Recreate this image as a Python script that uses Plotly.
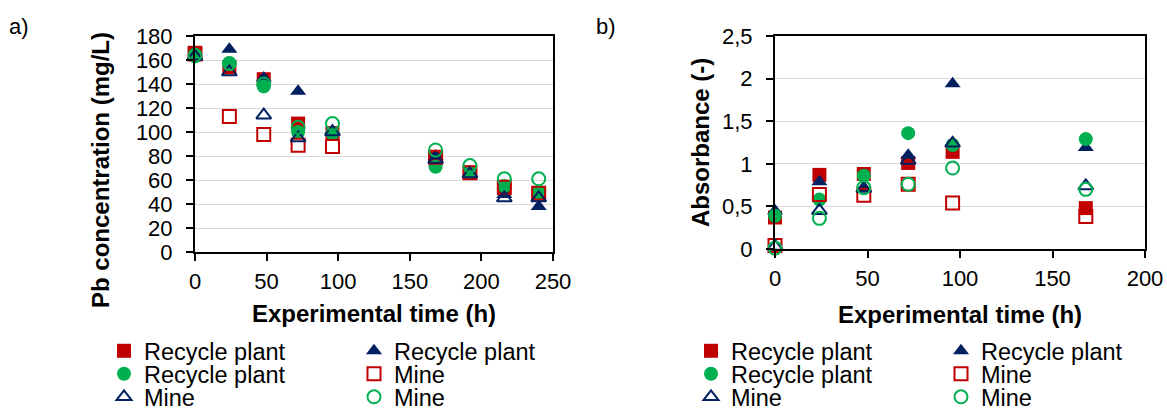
import plotly.graph_objects as go

# ---------------- data ----------------
time_a = [0, 24, 48, 72, 96, 168, 192, 216, 240]
pb_recycle_sq = [166, 154, 144, 107, 99, 78, 66, 53, 49]
pb_recycle_tri = [163, 169, 145, 134, 101, 80, 66, 48, 38]
pb_recycle_circ = [163, 157, 138, 100, 99, 71, 66, 55, 50]
pb_mine_sq = [165, 113, 98, 89, 88, 79, 66, 54, 49]
pb_mine_tri = [163, 150, 114, 95, 100, 77, 65, 45, 45]
pb_mine_circ = [164, 157, 140, 104, 107, 85, 72, 61, 61]

time_b = [0, 24, 48, 72, 96, 168]
ab_recycle_sq = [0.37, 0.87, 0.88, 1.01, 1.14, 0.48]
ab_recycle_tri = [0.45, 0.79, 0.72, 1.10, 1.94, 1.19]
ab_recycle_circ = [0.39, 0.58, 0.86, 1.36, 1.22, 1.29]
ab_mine_sq = [0.04, 0.64, 0.63, 0.76, 0.54, 0.38]
ab_mine_tri = [0.03, 0.45, 0.71, 1.04, 1.24, 0.74]
ab_mine_circ = [0.01, 0.36, 0.72, 0.76, 0.95, 0.70]

labels = ["Recycle plant", "Recycle plant", "Recycle plant", "Mine", "Mine", "Mine"]

RED = "#C00000"
NAVY = "#002060"
GREEN = "#00B050"
FONT = "Liberation Sans, Arial, sans-serif"

styles = [
    dict(symbol="square", color=RED, line=dict(width=0), size=14),
    dict(symbol="triangle-up", color=NAVY, line=dict(width=0), size=14),
    dict(symbol="circle", color=GREEN, line=dict(width=0), size=14),
    dict(symbol="square-open", color=RED, line=dict(width=2, color=RED), size=13),
    dict(symbol="triangle-up-open", color=NAVY, line=dict(width=2, color=NAVY), size=13),
    dict(symbol="circle-open", color=GREEN, line=dict(width=2, color=GREEN), size=13),
]

series_a = [pb_recycle_sq, pb_recycle_tri, pb_recycle_circ, pb_mine_sq, pb_mine_tri, pb_mine_circ]
series_b = [ab_recycle_sq, ab_recycle_tri, ab_recycle_circ, ab_mine_sq, ab_mine_tri, ab_mine_circ]

legend_left = ["legend", "legend", "legend2", "legend2", "legend3", "legend3"]
legend_right = ["legend4", "legend4", "legend5", "legend5", "legend6", "legend6"]

fig = go.Figure()
for i in range(6):
    fig.add_trace(go.Scatter(
        x=time_a, y=series_a[i], mode="markers", name=labels[i],
        marker=styles[i], xaxis="x", yaxis="y", legend=legend_left[i],
        cliponaxis=False))
for i in range(6):
    fig.add_trace(go.Scatter(
        x=time_b, y=series_b[i], mode="markers", name=labels[i],
        marker=styles[i], xaxis="x2", yaxis="y2", legend=legend_right[i],
        cliponaxis=False))

W, H = 1167, 408

def px(x):
    return x / W

def py(y):
    return 1 - y / H

axis_common = dict(
    showline=True, linewidth=2, linecolor="black", mirror=True,
    ticks="outside", ticklen=7, tickwidth=1.5, tickcolor="black",
    tickfont=dict(family=FONT, size=22, color="black"),
    zeroline=False, automargin=False,
)

fig.update_layout(
    width=W, height=H,
    margin=dict(l=0, r=0, t=0, b=0, autoexpand=False),
    paper_bgcolor="white", plot_bgcolor="white",
    separators=", ",
    font=dict(family=FONT, size=22, color="black"),
    xaxis=dict(domain=[px(195), px(553)], range=[0, 250], dtick=50,
               showgrid=False, anchor="y", ticklabelstandoff=2, **axis_common),
    yaxis=dict(domain=[py(252), py(36)], range=[0, 180], dtick=20,
               showgrid=True, gridcolor="#D9D9D9", gridwidth=1,
               anchor="x", ticklabelstandoff=9, **axis_common),
    xaxis2=dict(domain=[px(775), px(1145)], range=[0, 200], dtick=50,
                showgrid=False, anchor="y2", ticklabelstandoff=2, **axis_common),
    yaxis2=dict(domain=[py(249), py(36)], range=[0, 2.5], dtick=0.5,
                showgrid=True, gridcolor="#D9D9D9", gridwidth=1,
                anchor="x2", ticklabelstandoff=9, **axis_common),
)

leg_common = dict(orientation="h", xref="paper", yref="paper",
                  xanchor="left", yanchor="middle",
                  bgcolor="rgba(0,0,0,0)", borderwidth=0,
                  font=dict(family=FONT, size=23.5, color="black"),
                  entrywidth=205, entrywidthmode="pixels",
                  itemsizing="trace", itemclick=False, itemdoubleclick=False)

rows_y = [351, 374, 397]
for k, name in enumerate(["legend", "legend2", "legend3"]):
    fig.update_layout({name: dict(x=px(104), y=py(rows_y[k]), **leg_common)})
for k, name in enumerate(["legend4", "legend5", "legend6"]):
    fig.update_layout({name: dict(x=px(691), y=py(rows_y[k]), **leg_common)})

title_font = dict(family=FONT, size=24, color="black")
annotations = [
    dict(text="<b>Experimental time (h)</b>", x=px(374), y=py(313), xref="paper", yref="paper",
         xanchor="center", yanchor="middle", showarrow=False, font=title_font),
    dict(text="<b>Experimental time (h)</b>", x=px(960), y=py(314), xref="paper", yref="paper",
         xanchor="center", yanchor="middle", showarrow=False, font=title_font),
    dict(text="<b>Pb concentration (mg/L)</b>", x=px(100), y=py(170), xref="paper", yref="paper",
         xanchor="center", yanchor="middle", showarrow=False, textangle=-90, font=title_font),
    dict(text="<b>Absorbance (-)</b>", x=px(700), y=py(143), xref="paper", yref="paper",
         xanchor="center", yanchor="middle", showarrow=False, textangle=-90, font=title_font),
    dict(text="a)", x=px(19), y=py(26), xref="paper", yref="paper",
         xanchor="center", yanchor="middle", showarrow=False,
         font=dict(family=FONT, size=22, color="black")),
    dict(text="b)", x=px(606), y=py(26), xref="paper", yref="paper",
         xanchor="center", yanchor="middle", showarrow=False,
         font=dict(family=FONT, size=22, color="black")),
]
fig.update_layout(annotations=annotations)

fig.write_html(
    "out.html",
    config={"displayModeBar": False},
    post_script="document.body.style.margin='0';document.body.style.overflow='hidden';",
)
